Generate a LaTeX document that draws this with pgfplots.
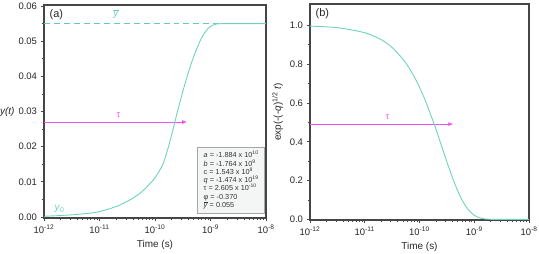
\documentclass[border=0pt]{standalone}
\usepackage{pgfplots}
\pgfplotsset{compat=1.18}
\usepackage{fontspec}
\setmainfont{Liberation Sans}
\usetikzlibrary{arrows.meta}
\definecolor{curve}{RGB}{110,210,190}
\definecolor{dashc}{RGB}{100,205,185}
\definecolor{pinkc}{RGB}{240,80,240}
\definecolor{framec}{RGB}{70,70,70}
\definecolor{boxfill}{RGB}{244,246,246}
\begin{document}
\begin{tikzpicture}
\useasboundingbox (0,0) rectangle (539bp,254bp);
% Panel (a)
\begin{axis}[
  scale only axis,
  xmode=log, xmin=1e-12, xmax=1e-8,
  xtick={1e-12,1e-11,1e-10,1e-9,1e-8},
  xticklabels={10\textsuperscript{-12},10\textsuperscript{-11},10\textsuperscript{-10},10\textsuperscript{-9},10\textsuperscript{-8}},
  minor xtick={2e-12,3e-12,4e-12,5e-12,6e-12,7e-12,8e-12,9e-12,2e-11,3e-11,4e-11,5e-11,6e-11,7e-11,8e-11,9e-11,2e-10,3e-10,4e-10,5e-10,6e-10,7e-10,8e-10,9e-10,2e-9,3e-9,4e-9,5e-9,6e-9,7e-9,8e-9,9e-9},
  minor y tick num=1,
  tick align=outside,
  xtick pos=left, ytick pos=left,
  major tick length=3.5pt, minor tick length=2pt,
  tick style={framec, line width=0.8pt},
  axis line style={framec, line width=1.3pt},
  ticklabel style={font=\fontsize{9.5}{11}\selectfont, text=black!85},
  xlabel style={font=\fontsize{10}{12}\selectfont, text=black!85},
  ylabel style={font=\fontsize{10}{12}\selectfont, text=black!85, rotate=-90, at={(rel axis cs:-0.165,0.5)}, anchor=center},
  xlabel={Time (s)},
  scaled y ticks=false,
  yticklabel style={/pgf/number format/fixed, /pgf/number format/fixed zerofill, /pgf/number format/precision=2, /pgf/number format/assume math mode=true},
  at={(44bp,36bp)}, anchor=south west,
  width=222bp, height=213bp,
  ymin=-0.0003, ymax=0.0603,
  ytick={0,0.01,0.02,0.03,0.04,0.05,0.06},
  ylabel={\textit{y(t)}},
]
\addplot[draw=dashc, line width=1.1pt, dash pattern=on 6pt off 4pt] coordinates {(1e-12,0.055) (1e-8,0.055)};
\addplot[pinkc, line width=0.9pt, -{Latex[length=5pt,width=4pt]}] coordinates {(1e-12,0.027) (3.8e-10,0.027)};
\addplot[curve, line width=0.9pt] coordinates {
(1e-12,0.0002) (2e-12,0.0004) (3.16e-12,0.0006) (4.47e-12,0.0008) (7e-12,0.0011) (1e-11,0.0015)
(1.58e-11,0.0024) (2.2e-11,0.0032) (2.69e-11,0.0039) (3.3e-11,0.0046) (3.98e-11,0.0053) (4.6e-11,0.0060) (5.37e-11,0.0067) (6.2e-11,0.0076) (7.08e-11,0.0085)
(8.1e-11,0.0095) (9.33e-11,0.0105) (1.05e-10,0.0116) (1.17e-10,0.0128) (1.29e-10,0.0140) (1.41e-10,0.0152) (1.58e-10,0.0176) (1.78e-10,0.0204)
(2.0e-10,0.0234) (2.24e-10,0.0265) (2.51e-10,0.0297) (2.82e-10,0.0327) (3.16e-10,0.0356)
(3.55e-10,0.0384) (3.98e-10,0.0410) (4.57e-10,0.0440) (5.37e-10,0.0470) (6.46e-10,0.0500)
(7.59e-10,0.0521) (9.12e-10,0.0537) (1.07e-9,0.0545) (1.29e-9,0.0549) (1.58e-9,0.0550)
(3.16e-9,0.0550) (1e-8,0.0550)};
\node[font=\fontsize{11}{12}\selectfont, text=black!85, anchor=north west] at (rel axis cs:0.01,0.995) {(a)};
\node[font=\fontsize{10}{12}\selectfont, text=curve, anchor=south] at (axis cs:2e-11,0.0553) {$\overline{\mbox{\textit{y}}}$};
\node[font=\fontsize{9}{10}\selectfont, text=pinkc, anchor=south] at (axis cs:2.2e-11,0.0272) {τ};
\node[font=\fontsize{10}{12}\selectfont, text=curve, anchor=south west] at (axis cs:1.35e-12,0.0002) {\textit{y}\textsubscript{0}};
\node[draw=gray!70, fill=boxfill, line width=0.6pt, anchor=south east, align=left,
      font=\fontsize{7.3}{8.3}\selectfont, text=black!80, inner xsep=6pt, inner ysep=4pt]
  at (rel axis cs:0.995,0.022) {%
  \textit{a} = -1.884 x 10\textsuperscript{10}\\
  \textit{b} = -1.764 x 10\textsuperscript{9}\\
  c = 1.543 x 10\textsuperscript{8}\\
  \textit{q} = -1.474 x 10\textsuperscript{19}\\
  τ = 2.605 x 10\textsuperscript{-10}\\
  φ = -0.370\\
  $\overline{\mbox{\textit{y}}}$ = 0.055};
\end{axis}
% Panel (b)
\begin{axis}[
  scale only axis,
  xmode=log, xmin=1e-12, xmax=1e-8,
  xtick={1e-12,1e-11,1e-10,1e-9,1e-8},
  xticklabels={10\textsuperscript{-12},10\textsuperscript{-11},10\textsuperscript{-10},10\textsuperscript{-9},10\textsuperscript{-8}},
  minor xtick={2e-12,3e-12,4e-12,5e-12,6e-12,7e-12,8e-12,9e-12,2e-11,3e-11,4e-11,5e-11,6e-11,7e-11,8e-11,9e-11,2e-10,3e-10,4e-10,5e-10,6e-10,7e-10,8e-10,9e-10,2e-9,3e-9,4e-9,5e-9,6e-9,7e-9,8e-9,9e-9},
  minor y tick num=1,
  tick align=outside,
  xtick pos=left, ytick pos=left,
  major tick length=3.5pt, minor tick length=2pt,
  tick style={framec, line width=0.8pt},
  axis line style={framec, line width=1.3pt},
  ticklabel style={font=\fontsize{9.5}{11}\selectfont, text=black!85},
  xlabel style={font=\fontsize{10}{12}\selectfont, text=black!85},
  ylabel style={font=\fontsize{10}{12}\selectfont, text=black!85},
  xlabel={Time (s)},
  scaled y ticks=false,
  yticklabel style={/pgf/number format/fixed, /pgf/number format/fixed zerofill, /pgf/number format/precision=1, /pgf/number format/assume math mode=true},
  at={(310bp,34bp)}, anchor=south west,
  width=219bp, height=216bp,
  ymin=-0.003, ymax=1.11,
  ytick={0,0.2,0.4,0.6,0.8,1.0},
  ylabel={exp(-(-\textit{q})\textsuperscript{1/2} \textit{t})},
]
\addplot[pinkc, line width=0.9pt, -{Latex[length=5pt,width=4pt]}] coordinates {(1e-12,0.491) (4.15e-10,0.491)};
\addplot[curve, line width=0.9pt, smooth] coordinates {
(1e-12,0.996) (3.16e-12,0.988) (1e-11,0.962) (2e-11,0.926) (3.16e-11,0.886)
(5.01e-11,0.825) (6.31e-11,0.785) (7.94e-11,0.737) (1e-10,0.681) (1.26e-10,0.617)
(1.58e-10,0.544) (2.0e-10,0.465) (2.51e-10,0.381) (3.16e-10,0.297) (3.98e-10,0.217)
(5.01e-10,0.146) (6.31e-10,0.089) (7.94e-10,0.047) (1e-9,0.0215) (1.26e-9,0.008)
(1.58e-9,0.0023) (2e-9,0.0005) (2.51e-9,0.0001) (1e-8,0)};
\node[font=\fontsize{11}{12}\selectfont, text=black!85, anchor=north west] at (rel axis cs:0.01,0.995) {(b)};
\node[font=\fontsize{9}{10}\selectfont, text=pinkc, anchor=south] at (axis cs:2.6e-11,0.495) {τ};
\end{axis}
\end{tikzpicture}
\end{document}
